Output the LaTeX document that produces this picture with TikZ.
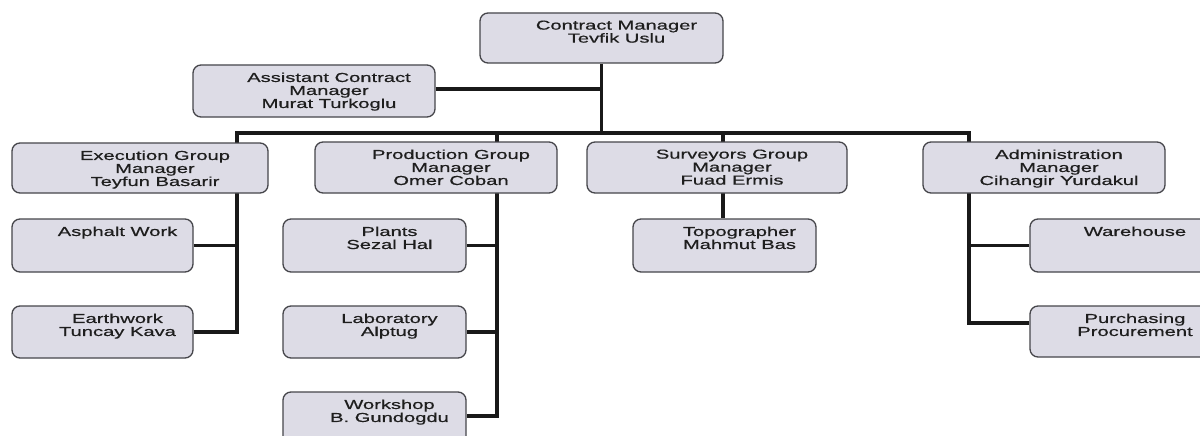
\documentclass[tikz,border=0pt]{standalone}
\usepackage{fontspec}
\setmainfont{Liberation Sans}[FakeStretch=1.55,FakeBold=0.6]
\usetikzlibrary{backgrounds}
\definecolor{boxfill}{RGB}{221,220,230}
\definecolor{boxline}{RGB}{70,70,75}
\definecolor{txtcol}{RGB}{30,30,30}
\begin{document}
\begin{tikzpicture}[x=1pt,y=-1pt,
  box/.style={draw=boxline, fill=boxfill, rounded corners=8pt, line width=1.3pt, inner sep=0pt},
  conn/.style={line width=3.6pt, black!90},
  lbl/.style={anchor=north, yshift=-8pt, xshift=15pt, align=center, inner sep=0pt, text=txtcol, font=\fontsize{13}{13}\selectfont}]
\useasboundingbox (0,0) rectangle (1200,436);

\node[box, minimum width=243pt, minimum height=50pt, label={[lbl]north:{Contract Manager\\Tevfik Uslu}}] (cm) at (601.5,38) {};
\node[box, minimum width=242pt, minimum height=52pt, label={[lbl]north:{Assistant Contract\\Manager\\Murat Turkoglu}}] (asst) at (314,91) {};

\node[box, minimum width=256pt, minimum height=50pt, label={[lbl]north:{Execution Group\\Manager\\Teyfun Basarir}}] (exec) at (140,168) {};
\node[box, minimum width=181pt, minimum height=53pt, label={[lbl]north:{Asphalt Work}}] (asph) at (102.5,245.5) {};
\node[box, minimum width=181pt, minimum height=52pt, label={[lbl]north:{Earthwork\\Tuncay Kava}}] (earth) at (102.5,332) {};

\node[box, minimum width=242pt, minimum height=51pt, label={[lbl]north:{Production Group\\Manager\\Omer Coban}}] (prod) at (436,167.5) {};
\node[box, minimum width=183pt, minimum height=53pt, label={[lbl]north:{Plants\\Sezal Hal}}] (plants) at (374.5,245.5) {};
\node[box, minimum width=183pt, minimum height=52pt, label={[lbl]north:{Laboratory\\Alptug}}] (lab) at (374.5,332) {};
\node[box, minimum width=183pt, minimum height=52pt, label={[lbl]north:{Workshop\\B. Gundogdu}}] (work) at (374.5,418) {};

\node[box, minimum width=260pt, minimum height=51pt, label={[lbl]north:{Surveyors Group\\Manager\\Fuad Ermis}}] (surv) at (717,167.5) {};
\node[box, minimum width=183pt, minimum height=53pt, label={[lbl]north:{Topographer\\Mahmut Bas}}] (topo) at (724.5,245.5) {};

\node[box, minimum width=242pt, minimum height=51pt, label={[lbl]north:{Administration\\Manager\\Cihangir Yurdakul}}] (admin) at (1044,167.5) {};
\node[box, minimum width=180pt, minimum height=53pt, label={[lbl]north:{Warehouse}}] (ware) at (1120,245.5) {};
\node[box, minimum width=180pt, minimum height=51pt, label={[lbl]north:{Purchasing\\Procurement}}] (purch) at (1120,331.5) {};

\coordinate (busL) at (237,133);
\coordinate (busR) at (969,133);
\coordinate (pj) at (497,133);
\coordinate (sj) at (723,133);

\begin{scope}[on background layer]
\fill[white] (0,0) rectangle (1200,436);
\draw[conn] (cm.south) -- (cm.south |- busL);
\draw[conn] ([yshift=2pt]asst.east) -- ([yshift=2pt]asst.east -| cm.south);
\draw[conn] (earth.east) -| (busL) -- (busR) |- ([yshift=8.5pt]purch.west);
\draw[conn] (asph.east) -- (asph.east -| busL);
\draw[conn] (pj) |- ([yshift=2pt]work.east);
\draw[conn] (plants.east) -- (plants.east -| pj);
\draw[conn] (lab.east) -- (lab.east -| pj);
\draw[conn] (sj) -- (sj |- topo.north);
\draw[conn] (ware.west) -- (ware.west -| busR);
\end{scope}
\end{tikzpicture}
\end{document}
